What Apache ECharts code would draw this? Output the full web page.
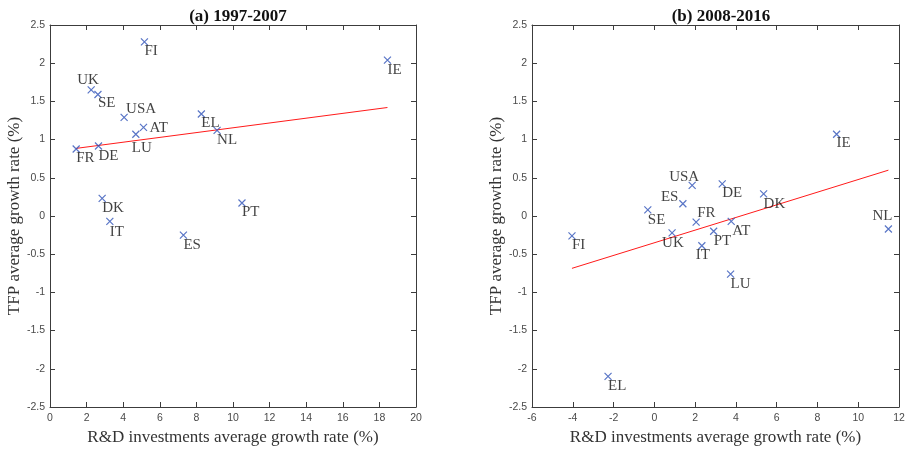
<!DOCTYPE html>
<html>
<head>
<meta charset="utf-8">
<script src="https://cdn.jsdelivr.net/npm/echarts@6/dist/echarts.min.js"></script>
<style>html,body{margin:0;padding:0;background:#fff}#c{width:911px;height:452px}</style>
</head>
<body>
<div id="c"></div>
<script>
// ---- Data ----
const titleA = '(a) 1997-2007';
const titleB = '(b) 2008-2016';
const xName = 'R&D investments average growth rate (%)';
const yName = 'TFP average growth rate (%)';

const namesA = ['FI','IE','UK','SE','USA','AT','LU','EL','NL','FR','DE','DK','IT','ES','PT'];
const xA = [5.16,18.44,2.25,2.62,4.05,5.11,4.69,8.27,9.13,1.43,2.65,2.85,3.27,7.29,10.49];
const yA = [2.28,2.04,1.65,1.59,1.29,1.16,1.07,1.335,1.12,0.877,0.916,0.23,-0.07,-0.25,0.17];
const fitAx = [1.43,18.44];
const fitAy = [0.885,1.42];

const namesB = ['USA','DE','DK','ES','SE','FR','AT','UK','PT','FI','IT','LU','NL','IE','EL'];
const xB = [1.855,3.33,5.36,1.40,-0.32,2.05,3.77,0.87,2.91,-4.04,2.33,3.74,11.48,8.94,-2.27];
const yB = [0.40,0.42,0.29,0.16,0.08,-0.08,-0.07,-0.22,-0.20,-0.26,-0.39,-0.76,-0.17,1.07,-2.10];
const fitBx = [-4.04,11.48];
const fitBy = [-0.685,0.60];

const xTicksA = {min:0, max:20, interval:2};
const xTicksB = {min:-6, max:12, interval:2};
const yTicks = {min:-2.5, max:2.5, interval:0.5};

// ---- Label placement (style, per point: text top-left relative to marker centre) ----
const offA = {FI:[0,2],IE:[0,2],UK:[-14,-17],SE:[0,1],USA:[2,-16],AT:[6,-7],LU:[-4,6],EL:[0,2],NL:[0,2],FR:[0,2],DE:[0,3],DK:[0,2],IT:[0,3],ES:[0,2],PT:[0,2]};
const offB = {USA:[-23,-16],DE:[0,2],DK:[0,3],ES:[-22,-14],SE:[0,3],FR:[1,-17],AT:[1,2],UK:[-10,3],PT:[0,2],FI:[0,2],IT:[-6,2],LU:[0,2],NL:[-16,-20],IE:[0,1],EL:[0,2]};

const axisColor = '#3c3c3c';
const tickLabelColor = '#4a4a4a';
const serif = '"Liberation Serif","DejaVu Serif",serif';
const sans = '"Liberation Sans",Arial,sans-serif';
const markerColor = '#2f52b8';

function xAxisDef(gi, t, pos, withLabel){
  return {
    type:'value', gridIndex:gi, position:pos, min:t.min, max:t.max, interval:t.interval,
    axisLine:{show:true, onZero:false, lineStyle:{color:axisColor, width:1}},
    axisTick:{show:true, inside:true, length:5, lineStyle:{color:axisColor}},
    axisLabel:{show:withLabel, color:tickLabelColor, fontFamily:sans, fontSize:10.5, margin:6, hideOverlap:false, showMinLabel:true, showMaxLabel:true},
    splitLine:{show:false},
    name: withLabel ? xName : '', nameLocation:'middle', nameGap:21,
    nameTextStyle:{fontFamily:serif, fontSize:17, color:'#333'}
  };
}
function yAxisDef(gi, pos, withLabel){
  return {
    type:'value', gridIndex:gi, position:pos, min:yTicks.min, max:yTicks.max, interval:yTicks.interval,
    axisLine:{show:true, onZero:false, lineStyle:{color:axisColor, width:1}},
    axisTick:{show:true, inside:true, length:5, lineStyle:{color:axisColor}},
    axisLabel:{show:withLabel, color:tickLabelColor, fontFamily:sans, fontSize:10.5, margin:5, showMinLabel:true, showMaxLabel:true},
    splitLine:{show:false},
    name: withLabel ? yName : '', nameLocation:'middle', nameGap:26, nameRotate:90,
    nameTextStyle:{fontFamily:serif, fontSize:17, color:'#333'}
  };
}

function scatterData(names, xs, ys, offs){
  return names.map((n,i)=>({
    value:[xs[i], ys[i]], name:n,
    label:{offset:offs[n]}
  }));
}

const xSym = 'path://M0,0L10,10M0,10L10,0';

function scatterSeries(xi, yi, names, xs, ys, offs){
  return {
    type:'scatter', xAxisIndex:xi, yAxisIndex:yi,
    symbol:xSym, symbolSize:7,
    itemStyle:{color:'rgba(0,0,0,0)', borderColor:markerColor, borderWidth:1.2},
    label:{show:true, position:'inside', align:'left', verticalAlign:'top', formatter:'{b}',
      color:'#111', fontFamily:serif, fontSize:15},
    emphasis:{disabled:true},
    data:scatterData(names, xs, ys, offs), z:3
  };
}
function fitSeries(xi, yi, fx, fy){
  return {
    type:'line', xAxisIndex:xi, yAxisIndex:yi, showSymbol:false, silent:true,
    lineStyle:{color:'#ff1a1a', width:1}, data:fx.map((v,i)=>[v, fy[i]]), z:2
  };
}

const chart = echarts.init(document.getElementById('c'));
chart.setOption({
  animation:false,
  backgroundColor:'#fff',
  title:[
    {text:titleA, left:233, top:3, textAlign:'center', textStyle:{fontFamily:serif, fontWeight:'bold', fontSize:17, color:'#111'}},
    {text:titleB, left:716, top:3, textAlign:'center', textStyle:{fontFamily:serif, fontWeight:'bold', fontSize:17, color:'#111'}}
  ],
  grid:[
    {left:50, right:495, top:25, bottom:45, containLabel:false},
    {left:532, right:12, top:25, bottom:45, containLabel:false}
  ],
  xAxis:[
    xAxisDef(0, xTicksA, 'bottom', true),
    xAxisDef(0, xTicksA, 'top', false),
    xAxisDef(1, xTicksB, 'bottom', true),
    xAxisDef(1, xTicksB, 'top', false)
  ],
  yAxis:[
    yAxisDef(0, 'left', true),
    yAxisDef(0, 'right', false),
    yAxisDef(1, 'left', true),
    yAxisDef(1, 'right', false)
  ],
  series:[
    fitSeries(0, 0, fitAx, fitAy),
    scatterSeries(0, 0, namesA, xA, yA, offA),
    fitSeries(2, 2, fitBx, fitBy),
    scatterSeries(2, 2, namesB, xB, yB, offB)
  ]
});
</script>
</body>
</html>
